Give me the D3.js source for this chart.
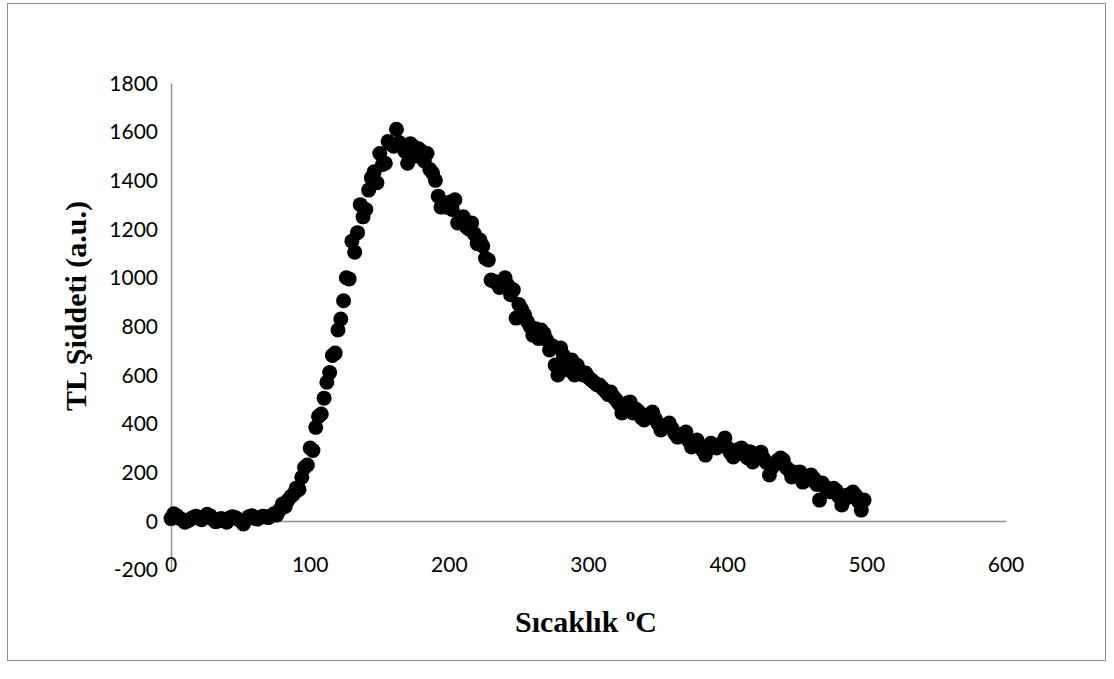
<!DOCTYPE html>
<html>
<head>
<meta charset="utf-8">
<script src="https://cdn.jsdelivr.net/npm/d3@7"></script>
<style>
  html, body { margin: 0; padding: 0; background: #fff; }
  svg { display: block; }
</style>
</head>
<body>
<svg id="chart" width="1114" height="679"></svg>
<script>
// Glow curve: temperature (°C) and TL intensity (a.u.)
const temperature = [
  0, 2, 4, 6, 8, 10, 12, 14, 16, 18, 20, 22, 24, 26, 28, 30, 32, 34, 36, 38,
  40, 42, 44, 46, 48, 50, 52, 54, 56, 58, 60, 62, 64, 66, 68, 70, 72, 74, 76, 78,
  80, 82, 84, 86, 88, 90, 92, 94, 96, 98, 100, 102, 104, 106, 108, 110, 112, 114, 116, 118,
  120, 122, 124, 126, 128, 130, 132, 134, 136, 138, 140, 142, 144, 146, 148, 150, 152, 154, 156, 158,
  160, 162, 164, 166, 168, 170, 172, 174, 176, 178, 180, 182, 184, 186, 188, 190, 192, 194, 196, 198,
  200, 202, 204, 206, 208, 210, 212, 214, 216, 218, 220, 222, 224, 226, 228, 230, 232, 234, 236, 238,
  240, 242, 244, 246, 248, 250, 252, 254, 256, 258, 260, 262, 264, 266, 268, 270, 272, 274, 276, 278,
  280, 282, 284, 286, 288, 290, 292, 294, 296, 298, 300, 302, 304, 306, 308, 310, 312, 314, 316, 318,
  320, 322, 324, 326, 328, 330, 332, 334, 336, 338, 340, 342, 344, 346, 348, 350, 352, 354, 356, 358,
  360, 362, 364, 366, 368, 370, 372, 374, 376, 378, 380, 382, 384, 386, 388, 390, 392, 394, 396, 398,
  400, 402, 404, 406, 408, 410, 412, 414, 416, 418, 420, 422, 424, 426, 428, 430, 432, 434, 436, 438,
  440, 442, 444, 446, 448, 450, 452, 454, 456, 458, 460, 462, 464, 466, 468, 470, 472, 474, 476, 478,
  480, 482, 484, 486, 488, 490, 492, 494, 496, 498
];

const intensity = [
  10, 30, 22, 12, 5, -5, 0, 8, 15, 20, 12, 5, 18, 28, 22, 8, -3, 0, 10, 5,
  -5, 12, 18, 15, 8, 2, -12, 5, 18, 22, 12, 8, 15, 20, 18, 14, 22, 30, 25, 45,
  70, 60, 85, 100, 110, 135, 130, 180, 220, 230, 300, 290, 385, 430, 440, 505, 570, 610, 680, 690,
  785, 830, 905, 1000, 995, 1150, 1105, 1185, 1300, 1250, 1280, 1360, 1410, 1435, 1390, 1510, 1465, 1470, 1560, 1550,
  1540, 1610, 1555, 1540, 1520, 1470, 1550, 1540, 1500, 1530, 1520, 1480, 1510, 1445, 1430, 1400, 1335, 1290, 1300, 1290,
  1310, 1280, 1320, 1225, 1240, 1250, 1210, 1200, 1225, 1180, 1140, 1155, 1130, 1080, 1073, 990, 985, 980, 960, 975,
  1000, 970, 930, 950, 834, 890, 870, 847, 820, 800, 764, 790, 750, 785, 770, 744, 703, 720, 641, 600,
  711, 680, 640, 620, 662, 600, 640, 610, 600, 608, 590, 580, 570, 560, 559, 546, 535, 520, 530, 510,
  497, 480, 444, 470, 485, 489, 444, 460, 450, 425, 415, 430, 440, 448, 420, 400, 374, 390, 395, 403,
  380, 360, 345, 355, 350, 366, 330, 304, 325, 333, 310, 290, 271, 300, 320, 310, 300, 310, 320, 341,
  300, 280, 263, 290, 295, 300, 280, 260, 285, 243, 270, 275, 283, 255, 240, 189, 220, 235, 250, 259,
  251, 220, 210, 181, 195, 200, 201, 160, 180, 170, 189, 175, 150, 86, 156, 140, 130, 120, 135, 125,
  100, 66, 90, 107, 100, 119, 105, 80, 45, 86
];

const xTicks = [0, 100, 200, 300, 400, 500, 600];
const yTicks = [-200, 0, 200, 400, 600, 800, 1000, 1200, 1400, 1600, 1800];

const xTitle = "Sıcaklık ";
const xTitleSup = "o";
const xTitleUnit = "C";
const yTitle = "TL Şiddeti (a.u.)";

const points = temperature.map((t, i) => ({ t, v: intensity[i] }));

const svg = d3.select("#chart");
const axisColor = "#8f8f8f";
const tickFont = "Lato, 'Open Sans', sans-serif";
const titleFont = "'Liberation Serif', 'Times New Roman', serif";

// chart area frame
svg.append("rect")
  .attr("x", 7.5).attr("y", 3.5)
  .attr("width", 1098).attr("height", 657)
  .attr("fill", "#fff")
  .attr("stroke", "#8c8c8c")
  .attr("stroke-width", 1);

const x = d3.scaleLinear().domain([0, 600]).range([171, 1006]);
const y = d3.scaleLinear().domain([-200, 1800]).range([569.7, 83]);

// horizontal axis through zero
const xAxis = d3.axisBottom(x).tickValues(xTicks).tickSize(0).tickFormat("");
const gx = svg.append("g").attr("transform", `translate(0,${y(0)})`).call(xAxis);
gx.select(".domain").attr("stroke", axisColor).attr("stroke-width", 1.5);

// vertical axis
const yAxis = d3.axisLeft(y).tickValues(yTicks).tickSize(0).tickFormat("");
const gy = svg.append("g").attr("transform", `translate(${x(0)},0)`).call(yAxis);
gy.select(".domain").attr("stroke", axisColor).attr("stroke-width", 1.5);

// tick labels
svg.append("g").selectAll("text")
  .data(xTicks)
  .join("text")
  .attr("x", d => x(d))
  .attr("y", 572)
  .attr("text-anchor", "middle")
  .attr("font-family", tickFont)
  .attr("font-size", 21)
  .attr("fill", "#000")
  .text(d => d);

svg.append("g").selectAll("text")
  .data(yTicks)
  .join("text")
  .attr("x", 158)
  .attr("y", d => y(d) + 7.5)
  .attr("text-anchor", "end")
  .attr("font-family", tickFont)
  .attr("font-size", 21)
  .attr("fill", "#000")
  .text(d => d);

// data markers
svg.append("g").selectAll("circle")
  .data(points)
  .join("circle")
  .attr("cx", d => x(d.t))
  .attr("cy", d => y(d.v))
  .attr("r", 7.5)
  .attr("fill", "#000");

// axis titles
const xt = svg.append("text")
  .attr("x", 586)
  .attr("y", 632)
  .attr("text-anchor", "middle")
  .attr("font-family", titleFont)
  .attr("font-weight", "bold")
  .attr("font-size", 30)
  .attr("fill", "#000");
xt.append("tspan").text(xTitle);
xt.append("tspan").attr("font-size", 19).attr("dy", -11).text(xTitleSup);
xt.append("tspan").attr("dy", 11).text(xTitleUnit);

svg.append("text")
  .attr("transform", "translate(86,306) rotate(-90)")
  .attr("text-anchor", "middle")
  .attr("font-family", titleFont)
  .attr("font-weight", "bold")
  .attr("font-size", 30)
  .attr("fill", "#000")
  .text(yTitle);
</script>
</body>
</html>
